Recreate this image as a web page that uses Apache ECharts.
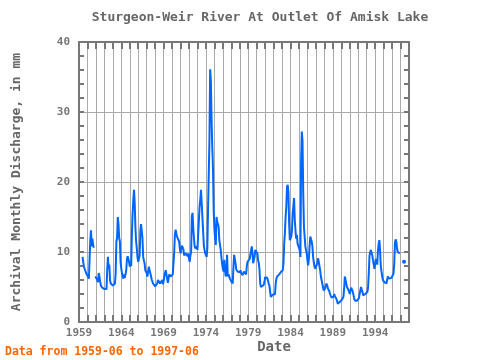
<!DOCTYPE html>
<html>
<head>
<meta charset="utf-8">
<script src="https://cdn.jsdelivr.net/npm/echarts@6/dist/echarts.min.js"></script>
<style>html,body{margin:0;padding:0;background:#fff}#c{width:480px;height:360px}</style>
</head>
<body>
<div id="c"></div>
<script>
// Monthly discharge (mm), series starts 1959-06
const startYear = 1959, startMonth = 6;
const flow1959 = [9.3, 8.6, 7.9, 7.6, 7.4, 7.0, 6.8];
const flow1960s = [
  6.6, 6.4, 6.2, 8.9, 11.7, 13.1, 10.8, 11.9, 11.0, 10.6, null, 6.5,
  6.4, 6.2, 6.0, 5.7, 7.0, 6.5, 5.8, 5.2, 5.0, 4.9, 4.9, 4.8,
  4.7, 4.6, 4.6, 4.7, 7.4, 9.3, 7.6, 8.2, 6.0, 5.5, 5.4, 5.3,
  5.2, 5.0, 5.0, 5.5, 7.0, 11.5, 12.0, 15.0, 14.0, 12.0, 11.5, 8.5,
  7.6, 7.0, 6.5, 6.2, 6.8, 6.3, 6.5, 7.4, 9.0, 9.4, 9.0, 8.6,
  7.9, 8.3, 8.0, 12.5, 15.5, 17.4, 18.9, 17.0, 13.5, 11.5, 10.5, 9.2,
  8.6, 8.4, 9.5, 13.0, 14.0, 14.2, 12.0, 9.3, 8.8, 8.4, 7.4, 7.2,
  7.0, 6.5, 7.2, 7.9, 8.0, 8.1, 6.6, 6.1, 6.0, 5.5, 5.4, 5.3,
  5.1, 5.0, 5.2, 5.5, 6.0, 6.2, 5.8, 5.5, 5.3, 5.6, 6.0, 5.4,
  5.8, 6.5, 7.0, 7.4, 7.3, 6.2, 5.6, 5.5, 6.8, 6.6, 6.5, 6.5
];
const flow1970s = [
  6.7, 6.8, 6.7, 10.0, 12.5, 13.2, 13.4, 12.2, 12.0, 12.2, 11.5, 10.5,
  9.8, 10.5, 10.9, 10.9, 10.4, 9.5, 9.3, 9.8, 10.0, 10.0, 9.4, 9.8,
  9.0, 8.6, 9.5, 10.0, 15.0, 15.6, 13.5, 12.0, 10.8, 10.5, 10.5, 10.8,
  10.3, 12.5, 14.5, 16.5, 17.5, 18.9, 17.0, 15.0, 13.0, 11.0, 10.3, 9.8,
  10.0, 9.3, 10.5, 16.0, 21.0, 26.0, 36.1, 34.5, 29.0, 25.0, 22.0, 16.0,
  13.4, 12.0, 11.0, 15.0, 14.3, 14.0, 13.6, 11.7, 11.0, 10.3, 9.2, 8.3,
  7.6, 7.2, 8.9, 7.5, 6.5, 6.8, 9.6, 6.5, 6.8, 7.0, 6.2, 6.0,
  5.8, 5.6, 5.5, 7.8, 9.6, 9.0, 8.4, 7.5, 7.4, 7.2, 7.2, 7.0,
  7.1, 7.4, 7.0, 6.8, 6.7, 6.5, 7.2, 7.4, 7.2, 6.8, 8.0, 8.6,
  8.5, 8.4, 9.0, 8.8, 9.2, 10.8, 9.8, 8.4, 8.9, 9.3, 10.3, 10.5
];
const flow1980s = [
  10.3, 9.8, 8.8, 8.4, 7.4, 5.5, 5.0, 5.0, 5.1, 5.1, 5.3, 5.8,
  6.4, 6.5, 6.5, 6.3, 6.2, 5.5, 5.2, 5.0, 3.6, 3.7, 3.8, 3.9,
  3.9, 3.9, 4.0, 5.5, 6.2, 6.5, 6.5, 6.6, 6.8, 7.0, 7.1, 7.2,
  7.3, 7.4, 8.4, 11.2, 12.7, 15.0, 16.5, 19.3, 19.6, 18.5, 14.1, 11.7,
  11.9, 12.2, 13.1, 15.5, 16.5, 17.7, 14.6, 13.1, 11.9, 12.4, 11.2, 11.4,
  11.2, 10.3, 9.3, 23.1, 27.2, 25.8, 18.4, 13.6, 12.2, 10.8, 10.2, 9.8,
  8.8, 8.1, 9.0, 10.8, 12.2, 12.4, 11.5, 10.8, 9.3, 8.5, 7.9, 7.6,
  7.4, 7.8, 8.4, 9.1, 8.6, 8.0, 7.4, 6.5, 6.0, 5.5, 5.0, 4.5,
  4.3, 4.8, 5.2, 5.5, 5.2, 4.8, 4.6, 4.4, 4.0, 3.8, 3.5, 3.4,
  3.3, 3.6, 4.0, 3.7, 3.5, 3.3, 3.0, 2.6, 2.8, 2.7, 2.9, 3.0
];
const flow1990s = [
  3.0, 3.2, 3.3, 3.6, 4.8, 6.5, 6.0, 5.5, 5.0, 4.8, 4.6, 4.5,
  4.0, 4.5, 4.9, 4.8, 4.4, 4.0, 3.5, 3.1, 3.0, 3.1, 3.0, 3.1,
  3.1, 3.4, 4.0, 4.5, 5.0, 4.6, 4.3, 3.8, 3.6, 3.8, 4.0, 4.0,
  4.0, 4.3, 5.0, 7.0, 9.5, 10.0, 10.3, 9.8, 9.5, 8.8, 8.2, 7.6,
  7.4, 9.0, 8.6, 8.2, 10.2, 11.2, 11.7, 10.2, 8.0, 7.2, 6.5, 6.0,
  5.8, 5.7, 5.7, 5.6, 5.5, 5.7, 6.5, 6.3, 6.2, 6.2, 6.2, 6.3,
  6.2, 6.5, 6.9, 8.2, 11.2, 11.8, 11.5, 10.5, 10.0, 9.8, 9.8, 9.8,
  null, null, null, null, null, 8.6
];
const yTicks = [0, 10, 20, 30, 40];
const xLabelYears = [1959, 1964, 1969, 1974, 1979, 1984, 1989, 1994];

const all = [].concat(flow1959, flow1960s, flow1970s, flow1980s, flow1990s);
const data = all.map((v, i) => {
  const mIdx = (startMonth - 1) + i;
  const x = startYear + mIdx / 12;
  const prev = i > 0 ? all[i - 1] : null;
  const next = i < all.length - 1 ? all[i + 1] : null;
  if (v != null && prev == null && next == null) {
    return { value: [x, v], symbol: 'circle', symbolSize: 4 };
  }
  return { value: [x, v], symbol: 'none' };
});

const gray = '#777';
const font = 'DejaVu Sans Mono';
const xBase = {
  type: 'value', min: 1959, max: 1998, interval: 1,
  axisLine: { show: true, onZero: false, lineStyle: { color: gray, width: 2 } },
  axisTick: { show: true, inside: true, length: 7, lineStyle: { color: gray, width: 2 } },
};
const yBase = {
  type: 'value', min: 0, max: 40, interval: 10,
  axisLine: { show: true, onZero: false, lineStyle: { color: gray, width: 2 } },
  axisTick: { show: true, inside: true, length: 5, lineStyle: { color: gray, width: 2 } },
  minorTick: { show: true, splitNumber: 5, length: 5, lineStyle: { color: gray, width: 2 } },
};

const chart = echarts.init(document.getElementById('c'), null, { renderer: 'canvas' });
chart.setOption({
  animation: false,
  backgroundColor: '#fff',
  grid: { left: 79, top: 42, width: 330, height: 280, containLabel: false },
  xAxis: [
    Object.assign({}, xBase, {
      position: 'bottom',
      splitLine: { show: true, lineStyle: { color: '#aaa', width: 1 } },
      axisLabel: {
        margin: 6, color: gray, fontFamily: font, fontWeight: 'bold', fontSize: 11,
        formatter: v => xLabelYears.indexOf(Math.round(v)) >= 0 ? String(Math.round(v)) : ''
      }
    }),
    Object.assign({}, xBase, { position: 'top', splitLine: { show: false }, axisLabel: { show: false } })
  ],
  yAxis: [
    Object.assign({}, yBase, {
      position: 'left',
      splitLine: { show: true, lineStyle: { color: '#aaa', width: 1 } },
      axisLabel: {
        margin: 9, color: gray, fontFamily: font, fontWeight: 'bold', fontSize: 11,
        formatter: v => yTicks.indexOf(v) >= 0 ? String(v) : ''
      }
    }),
    Object.assign({}, yBase, { position: 'right', splitLine: { show: false }, axisLabel: { show: false } })
  ],
  series: [{
    type: 'line',
    xAxisIndex: 0, yAxisIndex: 0,
    data: data,
    showSymbol: true,
    showAllSymbol: true,
    connectNulls: false,
    itemStyle: { color: '#0066ff' },
    lineStyle: { color: '#0066ff', width: 2 },
    emphasis: { disabled: true }
  }],
  graphic: [
    { type: 'text', x: 260, y: 18, style: { text: 'Sturgeon-Weir River At Outlet Of Amisk Lake', x: 0, y: 0, align: 'center', verticalAlign: 'middle', font: 'bold 13px "DejaVu Sans Mono"', fill: '#666' } },
    { type: 'text', rotation: Math.PI / 2, x: 17, y: 182, style: { text: 'Archival Monthly Discharge, in mm', x: 0, y: 0, align: 'center', verticalAlign: 'middle', font: 'bold 13px "DejaVu Sans Mono"', fill: '#666' } },
    { type: 'text', x: 274, y: 347, style: { text: 'Date', x: 0, y: 0, align: 'center', verticalAlign: 'middle', font: 'bold 14px "DejaVu Sans Mono"', fill: '#666' } },
    { type: 'text', x: 5, y: 352, style: { text: 'Data from 1959-06 to 1997-06', x: 0, y: 0, align: 'left', verticalAlign: 'middle', font: 'bold 11.5px "DejaVu Sans Mono"', fill: '#ff6600' } }
  ]
});
</script>
</body>
</html>
